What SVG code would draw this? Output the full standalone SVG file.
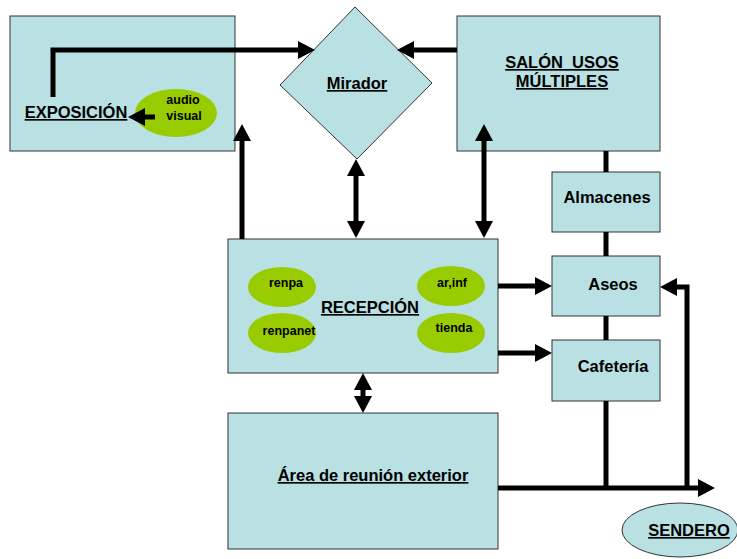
<svg xmlns="http://www.w3.org/2000/svg" width="737" height="559" viewBox="0 0 737 559">
<style>
.box{fill:#b9e0e3;stroke:#333;stroke-width:1}
.oval{fill:#99cc00;stroke:none}
.t{font-family:"Liberation Sans",Arial,sans-serif;font-weight:bold;font-size:16.5px;fill:#000;text-anchor:middle;white-space:pre}
.u{text-decoration:underline}
.s{font-size:12.5px}
.c{fill:none;stroke:#000;stroke-width:5;stroke-linejoin:miter}
</style>
<defs>
<marker id="ah" markerUnits="userSpaceOnUse" markerWidth="18" markerHeight="18" refX="5" refY="9" orient="auto-start-reverse">
<path d="M0,0 L17,9 L0,18 z" fill="#000"/>
</marker>
</defs>
<rect width="737" height="559" fill="#fff"/>
<g id="exposicion">
<rect class="box" x="10" y="16" width="225" height="135"/>
<text class="t u" x="76" y="118">EXPOSICIÓN</text>
</g>
<g id="audiovisual">
<ellipse class="oval" cx="176" cy="113" rx="41" ry="24"/>
<text class="t s" x="183" y="104">audio</text>
<text class="t s" x="184" y="120">visual</text>
</g>
<g id="mirador">
<polygon class="box" points="355,7 432,83 357,159 280,85"/>
<text class="t u" x="357" y="89">Mirador</text>
</g>
<g id="salon">
<rect class="box" x="457" y="16" width="203" height="135"/>
<text class="t u" x="562" y="68">SALÓN  USOS</text>
<text class="t u" x="562" y="87">MÚLTIPLES</text>
</g>
<g id="almacenes">
<rect class="box" x="552" y="172" width="108" height="60"/>
<text class="t" x="607" y="203">Almacenes</text>
</g>
<g id="recepcion">
<rect class="box" x="228" y="239" width="270" height="134"/>
<text class="t u" x="370" y="313">RECEPCIÓN</text>
</g>
<g id="renpa">
<ellipse class="oval" cx="282" cy="287" rx="34" ry="20"/>
<text class="t s" x="286" y="287">renpa</text>
</g>
<g id="renpanet">
<ellipse class="oval" cx="282" cy="333" rx="34" ry="20"/>
<text class="t s" x="289" y="335">renpanet</text>
</g>
<g id="arinf">
<ellipse class="oval" cx="451" cy="286" rx="34" ry="20"/>
<text class="t s" x="452" y="287">ar,inf</text>
</g>
<g id="tienda">
<ellipse class="oval" cx="451" cy="333" rx="34" ry="20"/>
<text class="t s" x="454" y="332">tienda</text>
</g>
<g id="aseos">
<rect class="box" x="552" y="256" width="108" height="60"/>
<text class="t" x="613" y="290">Aseos</text>
</g>
<g id="cafeteria">
<rect class="box" x="552" y="340" width="108" height="61"/>
<text class="t" x="613" y="372">Cafetería</text>
</g>
<g id="area">
<rect class="box" x="228" y="413" width="270" height="136"/>
<text class="t u" x="373" y="481">Área de reunión exterior</text>
</g>
<g id="sendero">
<ellipse class="box" cx="680" cy="530" rx="58" ry="27"/>
<text class="t u" x="689" y="536">SENDERO</text>
</g>
<g id="connectors">
<polyline class="c" points="53,97 53,50 303,50" marker-end="url(#ah)"/>
<line class="c" x1="155" y1="117" x2="140" y2="117" marker-end="url(#ah)"/>
<line class="c" x1="457" y1="50" x2="409" y2="50" marker-end="url(#ah)"/>
<line class="c" x1="242" y1="239" x2="242" y2="136" marker-end="url(#ah)"/>
<line class="c" x1="356" y1="171" x2="356" y2="226" marker-start="url(#ah)" marker-end="url(#ah)"/>
<line class="c" x1="484" y1="136" x2="484" y2="226" marker-start="url(#ah)" marker-end="url(#ah)"/>
<line class="c" x1="498" y1="286" x2="540" y2="286" marker-end="url(#ah)"/>
<line class="c" x1="498" y1="353" x2="540" y2="353" marker-end="url(#ah)"/>
<line class="c" x1="363" y1="385" x2="363" y2="401" marker-start="url(#ah)" marker-end="url(#ah)"/>
<line class="c" x1="606" y1="151" x2="606" y2="172"/>
<line class="c" x1="606" y1="232" x2="606" y2="256"/>
<line class="c" x1="606" y1="316" x2="606" y2="340"/>
<line class="c" x1="606" y1="401" x2="606" y2="488"/>
<line class="c" x1="498" y1="488" x2="703" y2="488" marker-end="url(#ah)"/>
<polyline class="c" points="687,488 687,287 672,287" marker-end="url(#ah)"/>
</g>
</svg>
